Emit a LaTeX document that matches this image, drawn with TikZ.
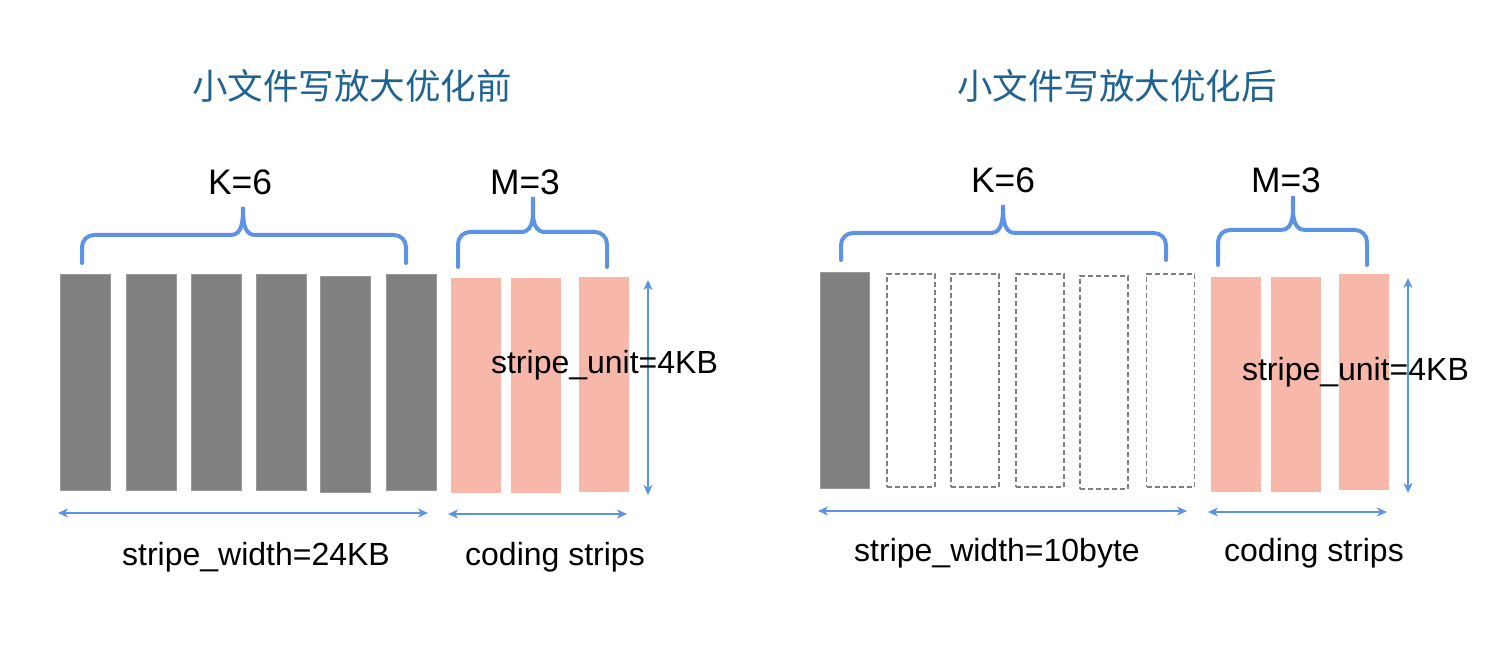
\documentclass[tikz,border=0pt]{standalone}
\usepackage{fontspec}
\setmainfont{Liberation Sans}
\newfontfamily\cjk{Noto Sans CJK SC}
\usetikzlibrary{arrows.meta, positioning}
\definecolor{cgrey}{HTML}{808080}
\definecolor{cpink}{HTML}{F7B7A9}
\definecolor{cblue}{HTML}{5C93E4}
\definecolor{ctitle}{HTML}{1F6391}
\tikzset{
  every picture/.style={x=0.5pt, y=-0.5pt},
  databar/.style={fill=cgrey, draw=cgrey!80, line width=0.5pt, minimum width=25pt, minimum height=107.5pt, inner sep=0pt},
  emptybar/.style={draw=cgrey, dash pattern=on 2.5pt off 1.5pt, line width=0.6pt, minimum width=24pt, minimum height=106.5pt, inner sep=0pt},
  codebar/.style={fill=cpink, draw=none, minimum width=25pt, minimum height=107.5pt, inner sep=0pt},
  brace/.style={draw=cblue, line width=2pt, line cap=round},
  dimarrow/.style={{Stealth[length=5pt, width=4.5pt, inset=1.5pt]}-{Stealth[length=5pt, width=4.5pt, inset=1.5pt]}, draw=cblue, line width=0.8pt},
  title/.style={font=\cjk\fontsize{17.75}{20}\selectfont, text=ctitle},
  kmtext/.style={font=\fontsize{17.7}{20}\selectfont, anchor=base, inner sep=0pt},
  note/.style={font=\fontsize{16}{19}\selectfont, anchor=base, inner sep=0pt},
}

\begin{document}
\begin{tikzpicture}
  \useasboundingbox (0,0) rectangle (1512,658);
  % before: strips
  \node[title] (ltitle) at (352,86) {小文件写放大优化前};
  \foreach \cx/\dy [count=\i] in {85/0, 151/0, 216/0, 281/0, 345/2, 411/0}
    \node[databar] (lk\i) at (\cx,382.5+\dy) {};
  \foreach \cx/\dy [count=\i] in {476/0, 536/0, 604/-1}
    \node[codebar] (lm\i) at (\cx,385.5+\dy) {};
  \node[kmtext] (lk) at (240,195) {K=6};
  \node[kmtext] (lm) at (525,195) {M=3};
  \draw[brace] (82,263) -- (82,247) to[out=90,in=180] (94,235) -- (231,235)
    to[out=0,in=-90] (243,207) to[out=-90,in=180] (255,235) -- (394,235)
    to[out=0,in=90] (406,247) -- (406,263);
  \draw[brace] (458,267) -- (458,244) to[out=90,in=180] (470,232) -- (521,232)
    to[out=0,in=-90] (533,197) to[out=-90,in=180] (545,232) -- (595,232)
    to[out=0,in=90] (607,244) -- (607,267);
  \coordinate (lu1) at (648,280); \coordinate (lu2) at (648,495);
  \coordinate (lw1) at (58,513); \coordinate (lw2) at (428,513);
  \coordinate (lc1) at (448,514); \coordinate (lc2) at (627,514);
  \draw[dimarrow] (lu1) -- (lu2);
  \draw[dimarrow] (lw1) -- (lw2);
  \draw[dimarrow] (lc1) -- (lc2);
  \node[note] (lunit) at (604.5,373) {stripe\_unit=4KB};
  \node[note] (lwidth) at (256,565) {stripe\_width=24KB};
  \node[note] (lcode) at (555,565) {coding strips};
  % after: strips
  \node[title] (rtitle) at (1117,86) {小文件写放大优化后};
  \node[databar, minimum width=24.5pt] (rk1) at (844.5,380.5) {};
  \foreach \cx/\dy [count=\i from 2] in {911/0, 975/0, 1040/0, 1104/2, 1170.5/0}
    \node[emptybar] (rk\i) at (\cx,380.5+\dy) {};
  \foreach \cx/\dy [count=\i] in {1235.5/0, 1295.5/0, 1363.5/-2.5}
    \node[codebar] (rm\i) at (\cx,384.5+\dy) {};
  \node[kmtext] (rk) at (1003,192) {K=6};
  \node[kmtext] (rm) at (1286,193) {M=3};
  \draw[brace] (841,260) -- (841,245) to[out=90,in=180] (853,233) -- (991,233)
    to[out=0,in=-90] (1003,205) to[out=-90,in=180] (1015,233) -- (1154,233)
    to[out=0,in=90] (1166,245) -- (1166,260);
  \draw[brace] (1218,265) -- (1218,242) to[out=90,in=180] (1230,230) -- (1281,230)
    to[out=0,in=-90] (1293,196) to[out=-90,in=180] (1305,230) -- (1355,230)
    to[out=0,in=90] (1367,242) -- (1367,265);
  \coordinate (ru1) at (1408,278); \coordinate (ru2) at (1408,493);
  \coordinate (rw1) at (818,511); \coordinate (rw2) at (1187,511);
  \coordinate (rc1) at (1208,512); \coordinate (rc2) at (1387,512);
  \draw[dimarrow] (ru1) -- (ru2);
  \draw[dimarrow] (rw1) -- (rw2);
  \draw[dimarrow] (rc1) -- (rc2);
  \node[note] (runit) at (1355.5,380) {stripe\_unit=4KB};
  \node[note] (rwidth) at (997,561) {stripe\_width=10byte};
  \node[note] (rcode) at (1314,561) {coding strips};
\end{tikzpicture}
\end{document}
